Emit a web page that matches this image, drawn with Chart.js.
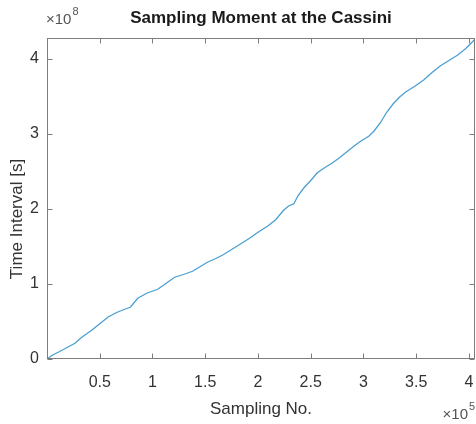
<!DOCTYPE html>
<html><head><meta charset="utf-8">
<script src="https://cdn.jsdelivr.net/npm/chart.js@4/dist/chart.umd.min.js"></script>
<style>html,body{margin:0;padding:0;background:#fff;overflow:hidden}#wrap{width:476px;height:424px}</style>
</head><body><div id="wrap"><canvas id="c" width="476" height="424"></canvas></div>
<script>
// Sampling number (units of 1e5) and time interval (units of 1e8 s)
const sampleNoE5 = [0.00,0.05,0.12,0.20,0.265,0.33,0.42,0.50,0.58,0.66,0.73,0.79,0.86,0.95,1.05,1.13,1.21,1.30,1.38,1.45,1.52,1.60,1.67,1.75,1.83,1.92,2.00,2.09,2.17,2.24,2.29,2.34,2.38,2.44,2.50,2.56,2.62,2.70,2.77,2.84,2.92,2.98,3.05,3.10,3.16,3.22,3.28,3.34,3.40,3.49,3.57,3.65,3.73,3.81,3.89,3.97,4.04,4.06];
const timeIntervalE8 = [0.00,0.05,0.10,0.16,0.21,0.29,0.38,0.47,0.56,0.62,0.66,0.69,0.81,0.88,0.93,1.01,1.09,1.13,1.17,1.23,1.29,1.34,1.39,1.46,1.53,1.61,1.69,1.77,1.86,1.98,2.04,2.07,2.18,2.29,2.38,2.48,2.54,2.61,2.68,2.76,2.85,2.91,2.97,3.04,3.15,3.29,3.40,3.49,3.56,3.64,3.72,3.82,3.91,3.98,4.05,4.14,4.24,4.27];
const xTickValues = [0.5,1,1.5,2,2.5,3,3.5,4];
const xTickLabels = ['0.5','1','1.5','2','2.5','3','3.5','4'];
const yTickValues = [0,1,2,3,4];
const yTickLabels = ['0','1','2','3','4'];
const chartTitle = 'Sampling Moment at the Cassini';
const xAxisTitle = 'Sampling No.';
const yAxisTitle = 'Time Interval [s]';
const xExponent = '5';
const yExponent = '8';

const points = sampleNoE5.map((x,i)=>({x:x, y:timeIntervalE8[i]}));
const FONT = '"Liberation Sans", Arial, Helvetica, sans-serif';

const matlabAxes = {
  id:'matlabAxes',
  afterDraw(chart){
    const ctx = chart.ctx, a = chart.chartArea;
    const xs = chart.scales.x, ys = chart.scales.y;
    const L = Math.round(a.left)+0.5, R = Math.round(a.right)-0.5, T = Math.round(a.top)+0.5, B = Math.round(a.bottom)-0.5;
    ctx.save();
    ctx.strokeStyle = '#7d7d7d'; ctx.lineWidth = 1;
    ctx.strokeRect(L, T, R-L, B-T);
    const tl = 5;
    ctx.beginPath();
    xTickValues.forEach(v=>{
      const px = Math.round(xs.getPixelForValue(v))+0.5;
      ctx.moveTo(px,B); ctx.lineTo(px,B-tl);
      ctx.moveTo(px,T); ctx.lineTo(px,T+tl);
    });
    yTickValues.forEach(v=>{
      const py = Math.round(ys.getPixelForValue(v))+0.5;
      ctx.moveTo(L,py); ctx.lineTo(L+tl,py);
      ctx.moveTo(R,py); ctx.lineTo(R-tl,py);
    });
    ctx.stroke();
    // title
    ctx.fillStyle = '#1a1a1a';
    ctx.font = 'bold 17px ' + FONT;
    ctx.textAlign = 'center'; ctx.textBaseline = 'middle';
    ctx.fillText(chartTitle, (a.left+a.right)/2, 18);
    // x title
    ctx.fillStyle = '#333';
    ctx.font = '17px ' + FONT;
    ctx.fillText(xAxisTitle, (a.left+a.right)/2, 409);
    // y title
    ctx.save();
    ctx.translate(17, 219); ctx.rotate(-Math.PI/2);
    ctx.fillText(yAxisTitle, 0, 0);
    ctx.restore();
    // exponents
    ctx.textAlign = 'left'; ctx.textBaseline = 'alphabetic';
    ctx.fillStyle = '#555';
    ctx.font = '15px ' + FONT;
    ctx.fillText('\u00d710', 46, 24);
    let w = ctx.measureText('\u00d710').width;
    ctx.font = '11px ' + FONT;
    ctx.fillText(yExponent, 46 + w + 1, 15);
    ctx.font = '15px ' + FONT;
    w = ctx.measureText('\u00d710').width;
    ctx.fillText('\u00d710', 468 - w, 419);
    ctx.font = '11px ' + FONT;
    ctx.fillText(xExponent, 469, 410);
    ctx.restore();
  }
};

new Chart(document.getElementById('c'), {
  type:'line',
  data:{datasets:[{data:points, borderColor:'#4a9fd2', borderWidth:1.3, pointRadius:0, tension:0, fill:false}]},
  options:{
    responsive:false, animation:false, devicePixelRatio:1,
    layout:{padding:{top:38, right:1, left:0, bottom:0}},
    plugins:{legend:{display:false}, title:{display:false}, tooltip:{enabled:false}},
    scales:{
      x:{type:'linear', min:0.00001, max:4.057,
        grid:{display:false, drawTicks:false}, border:{display:false},
        afterBuildTicks(s){ s.ticks = xTickValues.map(v=>({value:v})); },
        afterFit(s){ s.height = 65; s.paddingLeft = 0; s.paddingRight = 0; },
        ticks:{padding:14, color:'#333', font:{family:FONT, size:16}, maxRotation:0, autoSkip:false,
          callback(v){ const i = xTickValues.indexOf(v); return i>=0 ? xTickLabels[i] : ''; }}
      },
      y:{type:'linear', min:0, max:4.28,
        grid:{display:false, drawTicks:false}, border:{display:false},
        afterBuildTicks(s){ s.ticks = yTickValues.map(v=>({value:v})); },
        afterFit(s){ s.width = 47; s.paddingTop = 0; s.paddingBottom = 0; },
        ticks:{padding:8, color:'#333', font:{family:FONT, size:16}, autoSkip:false,
          callback(v){ const i = yTickValues.indexOf(v); return i>=0 ? yTickLabels[i] : ''; }}
      }
    }
  },
  plugins:[matlabAxes]
});
</script>
</body></html>
